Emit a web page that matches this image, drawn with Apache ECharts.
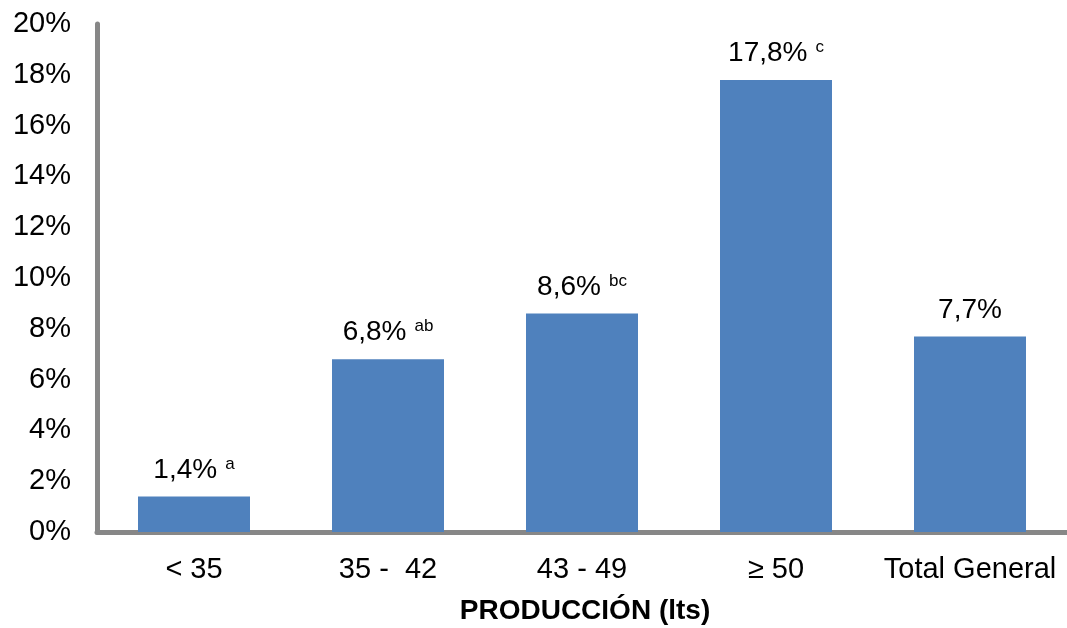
<!DOCTYPE html>
<html>
<head>
<meta charset="utf-8">
<script src="https://cdn.jsdelivr.net/npm/echarts@6/dist/echarts.min.js"></script>
<style>html,body{margin:0;padding:0;background:#fff;}#c{width:1067px;height:628px;}</style>
</head>
<body>
<div id="c"></div>
<script>
const categories = ['< 35', '35 -  42', '43 - 49', '≥ 50', 'Total General'];
const values = [1.4, 6.8, 8.6, 17.8, 7.7];
const letters = ['a', 'ab', 'bc', 'c', ''];
const yTicks = [0, 2, 4, 6, 8, 10, 12, 14, 16, 18, 20];
const axisTitle = 'PRODUCCIÓN (lts)';

const FONT = "'Liberation Sans', Arial, sans-serif";
const chart = echarts.init(document.getElementById('c'));
chart.setOption({
  animation: false,
  title: {
    text: axisTitle,
    left: 585,
    textAlign: 'center',
    top: 597,
    padding: 0,
    textStyle: { color: '#000', fontSize: 28, fontWeight: 'bold', fontFamily: FONT }
  },
  grid: { left: 97, top: 24, width: 976, height: 508, containLabel: false },
  xAxis: {
    type: 'category',
    data: categories,
    offset: 3,
    axisLine: { lineStyle: { color: '#878787', width: 5 } },
    axisTick: { show: false },
    axisLabel: { color: '#000', fontSize: 29, fontFamily: FONT, margin: 20, interval: 0 }
  },
  yAxis: {
    type: 'value',
    min: yTicks[0],
    max: yTicks[yTicks.length - 1],
    interval: 2,
    axisLine: { show: true, lineStyle: { color: '#878787', width: 5 } },
    axisTick: { show: false },
    splitLine: { show: false },
    axisLabel: { color: '#000', fontSize: 29, fontFamily: FONT, margin: 26, formatter: v => v + '%' }
  },
  series: [{
    type: 'bar',
    data: values,
    barWidth: 112,
    itemStyle: { color: '#4F81BD' },
    label: {
      show: true,
      position: 'top',
      distance: 12,
      formatter: p => {
        const main = '{m|' + String(p.value).replace('.', ',') + '%}';
        const l = letters[p.dataIndex];
        return l ? main + '{s|' + l + '}' : main;
      },
      rich: {
        m: { fontSize: 28, fontFamily: FONT, color: '#000' },
        s: { fontSize: 17, fontFamily: FONT, color: '#000', padding: [0, 0, 12, 8] }
      }
    }
  }]
});
</script>
</body>
</html>
